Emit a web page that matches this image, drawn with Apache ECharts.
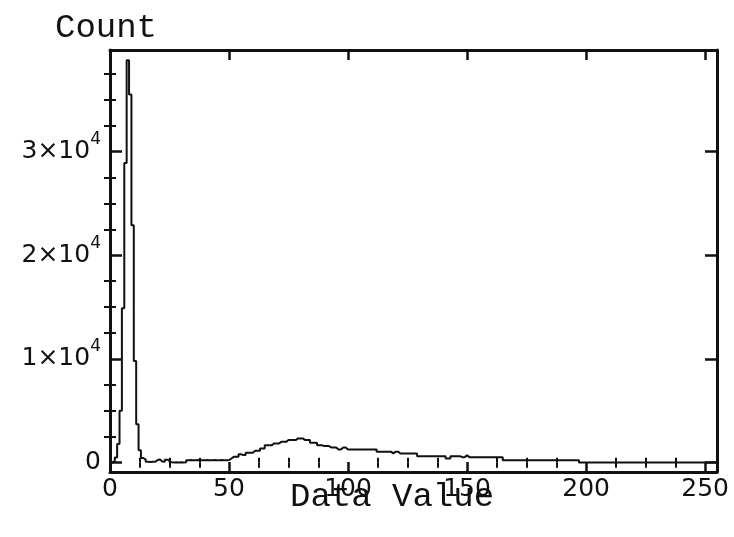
<!DOCTYPE html>
<html>
<head>
<meta charset="utf-8">
<script src="https://cdn.jsdelivr.net/npm/echarts@6/dist/echarts.min.js"></script>
<style>
  html, body { margin: 0; padding: 0; background: #fff; }
  #chart { width: 734px; height: 537px; }
</style>
</head>
<body>
<div id="chart"></div>
<script>
// Histogram counts, one bin per data value 0..255
const counts = [
  0, 150, 500, 1800, 5000, 14900, 28900, 38800, 35500, 22900, 9800, 3700, 1200, 450, 300, 80,
  70, 80, 90, 250, 300, 120, 80, 280, 250, 30, 20, 30, 20, 30, 20, 30,
  240, 250, 240, 240, 250, 240, 240, 240, 250, 240, 240, 250, 240, 240, 250, 240,
  240, 250, 400, 560, 560, 560, 820, 730, 740, 950, 950, 950, 1140, 1140, 1140, 1370,
  1370, 1690, 1690, 1690, 1860, 1860, 1860, 2010, 2010, 2010, 2180, 2180, 2180, 2180, 2340, 2340,
  2340, 2180, 2180, 2180, 1920, 1920, 1920, 1690, 1690, 1600, 1600, 1600, 1470, 1470, 1470, 1280,
  1280, 1470, 1470, 1280, 1280, 1280, 1270, 1280, 1280, 1280, 1280, 1270, 1280, 1280, 1280, 1280,
  1065, 1065, 1065, 1065, 1065, 1065, 900, 1065, 1065, 890, 890, 890, 890, 890, 890, 890,
  890, 630, 630, 630, 630, 630, 630, 630, 630, 630, 630, 630, 630, 410, 410, 630,
  630, 630, 630, 530, 530, 700, 530, 530, 530, 530, 530, 530, 530, 530, 530, 530,
  530, 530, 530, 530, 530, 240, 240, 240, 240, 240, 240, 240, 240, 240, 240, 240,
  240, 240, 240, 240, 240, 240, 240, 240, 240, 240, 240, 240, 240, 240, 240, 240,
  240, 240, 240, 240, 240, 20, 20, 20, 20, 20, 20, 20, 20, 20, 20, 20,
  20, 20, 20, 20, 20, 20, 20, 20, 20, 20, 20, 20, 20, 20, 20, 20,
  20, 20, 20, 20, 20, 20, 20, 20, 20, 20, 20, 20, 20, 20, 20, 20,
  20, 20, 20, 20, 20, 20, 20, 20, 20, 20, 20, 20, 20, 20, 20, 20
];

// Axis tick positions and labels
const xMajorTicks = [0, 50, 100, 150, 200, 250];
const xMinorTicks = [12.5, 25, 37.5, 62.5, 75, 87.5, 112.5, 125, 137.5, 162.5, 175, 187.5, 212.5, 225, 237.5];
const yMajorTicks = [0, 10000, 20000, 30000];
const yMinorTicks = [2500, 5000, 7500, 12500, 15000, 17500, 22500, 25000, 27500, 32500, 35000, 37500];
const xTitle = 'Data Value';
const yTitle = 'Count';

const chart = echarts.init(document.getElementById('chart'), null, { renderer: 'canvas' });

const ink = '#111';
const labelFont = 'DejaVu Sans';
const titleFont = 'Liberation Mono';

function axisBase(extra) {
  return Object.assign({
    type: 'value',
    splitLine: { show: false },
    axisLine: { show: true, onZero: false, lineStyle: { color: ink, width: 3 } }
  }, extra);
}

function majorTick(vals, len) {
  return { show: true, inside: true, length: len, customValues: vals, lineStyle: { color: ink, width: 2.5 } };
}
function minorTickCfg(vals, len) {
  return { show: true, inside: true, length: len, customValues: vals, lineStyle: { color: ink, width: 2 } };
}

const xRange = { min: 0, max: 255 };
const yRange = { min: -900, max: 39800 };

const option = {
  backgroundColor: '#fff',
  animation: false,
  grid: { left: 110, right: 17, top: 50, bottom: 65, containLabel: false },
  xAxis: [
    axisBase(Object.assign({
      position: 'bottom',
      axisTick: majorTick(xMajorTicks, 10),
      axisLabel: {
        customValues: xMajorTicks, margin: 5, color: ink,
        fontFamily: labelFont, fontSize: 25
      }
    }, xRange)),
    axisBase(Object.assign({
      position: 'bottom',
      axisLine: { show: false },
      axisTick: minorTickCfg(xMinorTicks, 5),
      axisLabel: { show: false }
    }, xRange)),
    axisBase(Object.assign({
      position: 'top',
      axisTick: majorTick(xMajorTicks, 10),
      axisLabel: { show: false }
    }, xRange)),
    axisBase(Object.assign({
      position: 'top',
      axisLine: { show: false },
      axisTick: minorTickCfg(xMinorTicks, 5),
      axisLabel: { show: false }
    }, xRange))
  ],
  yAxis: [
    axisBase(Object.assign({
      position: 'left',
      axisTick: majorTick(yMajorTicks, 12),
      axisLabel: {
        customValues: yMajorTicks, margin: 9, color: ink,
        fontFamily: labelFont, fontSize: 25,
        formatter: function (v) {
          return v === 0 ? '0' : (v / 10000) + '×10{s|4}';
        },
        rich: {
          s: { fontFamily: labelFont, fontSize: 17, color: ink, padding: [0, 0, 24, 0] }
        }
      }
    }, yRange)),
    axisBase(Object.assign({
      position: 'left',
      axisLine: { show: false },
      axisTick: minorTickCfg(yMinorTicks, 6),
      axisLabel: { show: false }
    }, yRange)),
    axisBase(Object.assign({
      position: 'right',
      axisTick: majorTick(yMajorTicks, 12),
      axisLabel: { show: false }
    }, yRange)),
    axisBase(Object.assign({
      position: 'right',
      axisLine: { show: false },
      axisTick: minorTickCfg(yMinorTicks, 6),
      axisLabel: { show: false }
    }, yRange))
  ],
  graphic: [
    {
      type: 'text', left: 55, top: 11,
      style: { text: yTitle, fontFamily: titleFont, fontSize: 34, fill: ink }
    },
    {
      type: 'text', left: 290, top: 480,
      style: { text: xTitle, fontFamily: titleFont, fontSize: 34, fill: ink }
    }
  ],
  series: [{
    type: 'line',
    xAxisIndex: 0,
    yAxisIndex: 0,
    step: 'end',
    symbol: 'none',
    clip: true,
    lineStyle: { color: ink, width: 2 },
    data: counts.map(function (c, i) { return [i, c]; })
  }]
};

chart.setOption(option);
</script>
</body>
</html>
